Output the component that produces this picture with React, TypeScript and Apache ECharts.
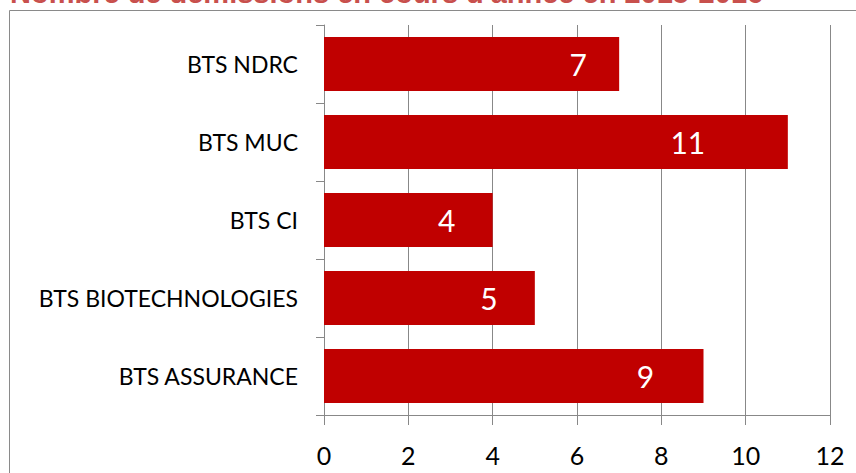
import React, { useEffect, useRef } from "react";
import * as echarts from "echarts";

const title = "Nombre de démissions en cours d'année en 2015-2016";
const categories = ["BTS ASSURANCE", "BTS BIOTECHNOLOGIES", "BTS CI", "BTS MUC", "BTS NDRC"];
const values = [9, 5, 4, 11, 7];
const xTicks = [0, 2, 4, 6, 8, 10, 12];

// label centre distance from bar end (style)
const labelGaps = [58, 46, 46, 100, 41];

export default function App() {
  const ref = useRef<HTMLDivElement>(null);
  useEffect(() => {
    if (!ref.current) return;
    const chart = echarts.init(ref.current, null, { renderer: "svg" });
    const axisColor = "#888888";
    chart.setOption({
      animation: false,
      backgroundColor: "#ffffff",
      graphic: [
        {
          type: "rect",
          shape: { x: 9.5, y: 10.5, width: 900, height: 500 },
          style: { fill: "none", stroke: "#8a8a8a", lineWidth: 1 },
          z: 0,
        },
        {
          type: "text",
          x: 10,
          y: -22,
          style: {
            text: title,
            fill: "#C8504D",
            font: "bold 29px 'Liberation Sans', Arial, sans-serif",
            verticalAlign: "top",
          },
        },
      ],
      grid: { left: 324, right: 26, top: 25, bottom: 58, containLabel: false },
      xAxis: {
        type: "value",
        min: xTicks[0],
        max: xTicks[xTicks.length - 1],
        interval: 2,
        axisLine: { show: true, lineStyle: { color: axisColor, width: 1 } },
        axisTick: { show: true, length: 10, lineStyle: { color: axisColor, width: 1 } },
        splitLine: { show: true, lineStyle: { color: axisColor, width: 1 } },
        axisLabel: {
          color: "#000",
          fontFamily: "Lato, sans-serif",
          fontSize: 25,
          margin: 27,
        },
      },
      yAxis: {
        type: "category",
        data: categories,
        axisLine: { show: true, lineStyle: { color: axisColor, width: 1 } },
        axisTick: { show: true, length: 8, lineStyle: { color: axisColor, width: 1 } },
        axisLabel: {
          color: "#000",
          fontFamily: "Lato, sans-serif",
          fontSize: 23,
          margin: 26,
        },
      },
      series: [
        {
          type: "bar",
          barCategoryGap: "31%",
          itemStyle: { color: "#C00000" },
          data: values.map((v, i) => ({
            value: v,
            label: {
              show: true,
              position: "insideRight",
              align: "center",
              distance: labelGaps[i],
              color: "#fff",
              fontFamily: "Lato, sans-serif",
              fontSize: 30,
            },
          })),
        },
      ],
    });
    return () => chart.dispose();
  }, []);
  return (
    <div
      ref={ref}
      style={{ position: "absolute", left: 0, top: 0, width: 856, height: 473 }}
    />
  );
}
